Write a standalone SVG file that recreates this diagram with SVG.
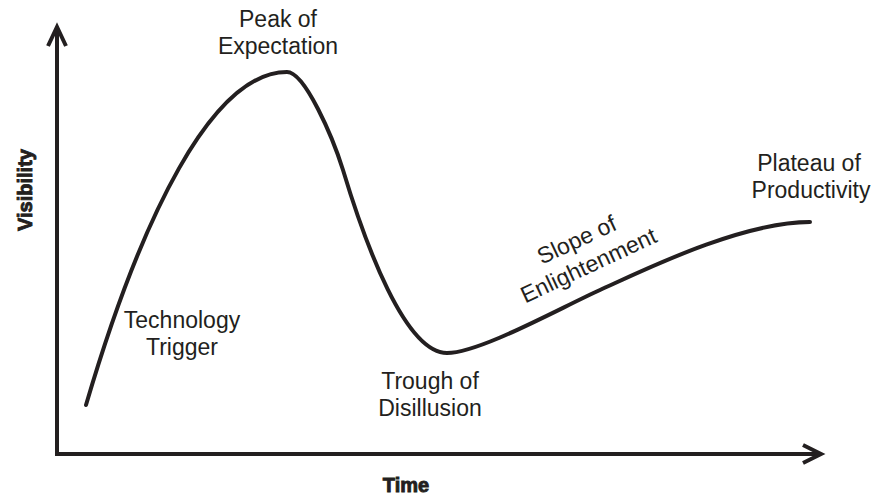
<svg xmlns="http://www.w3.org/2000/svg" width="876" height="498" viewBox="0 0 876 498">
<style>
.lbl{font-family:"Liberation Sans",Arial,sans-serif;font-size:23px;fill:#231f20;text-anchor:middle}
.ax{font-family:"Liberation Sans",Arial,sans-serif;font-size:20px;font-weight:bold;fill:#231f20;stroke:#231f20;stroke-width:0.9;text-anchor:middle}
.ln{fill:none;stroke:#231f20;stroke-width:4}
</style>
<rect width="876" height="498" fill="#fff"/>
<g id="connectors">
<path id="axes" class="ln" d="M57,30 V454 H819" stroke-linejoin="miter"/>
<polyline class="ln" points="48,46 57,27 66,46" stroke-width="5" stroke-linejoin="miter"/>
<polyline class="ln" points="803,445 821,454 803,463" stroke-width="5" stroke-linejoin="miter"/>
<path id="hype-curve" class="ln" stroke-linecap="round" d="M86,405 C141,218 212,72 287,72 C305,72 333,138 343,170 C365,243 405,353 447,353 C480,353 560,308 600,290 C640,272 740,222 810,222"/>
</g>
<g id="peak"><text class="lbl" x="278" y="27">Peak of</text><text class="lbl" x="278" y="54">Expectation</text></g>
<g id="trigger"><text class="lbl" x="182" y="328">Technology</text><text class="lbl" x="182" y="355">Trigger</text></g>
<g id="trough"><text class="lbl" x="430" y="389">Trough of</text><text class="lbl" x="430" y="416">Disillusion</text></g>
<g id="slope" transform="translate(580,247) rotate(-25)"><text class="lbl" x="0" y="0">Slope of</text><text class="lbl" x="0" y="28">Enlightenment</text></g>
<g id="plateau"><text class="lbl" x="809" y="171">Plateau of</text><text class="lbl" x="811" y="198">Productivity</text></g>
<g id="y-label"><text class="ax" transform="translate(32,190) rotate(-90)">Visibility</text></g>
<g id="x-label"><text class="ax" x="406" y="492">Time</text></g>
</svg>
